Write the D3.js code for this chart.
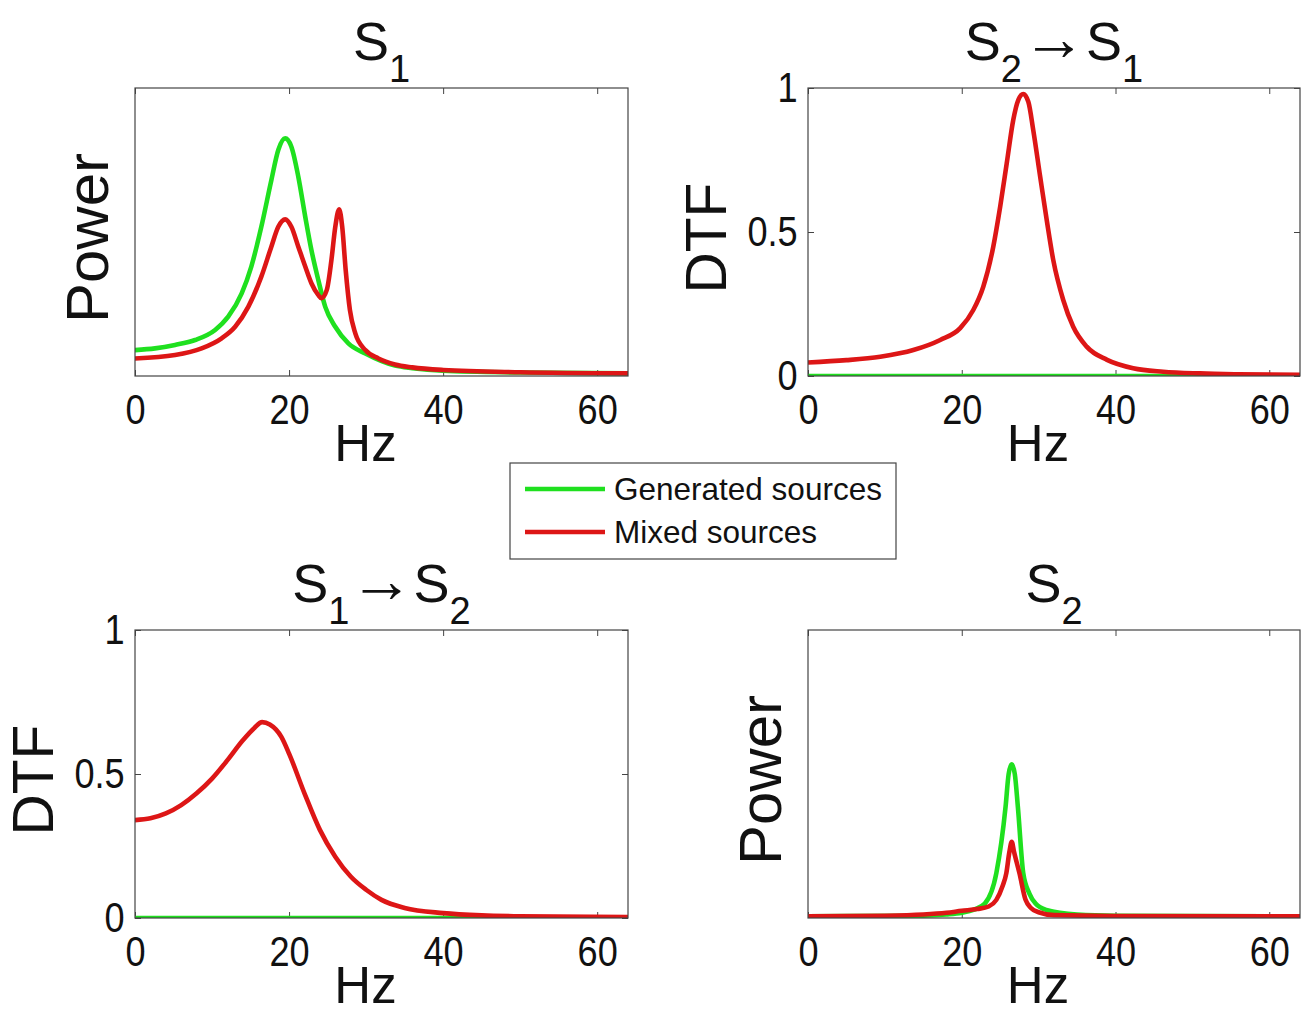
<!DOCTYPE html>
<meta charset="utf-8">
<title>Generated vs mixed sources</title>
<style>
  body { margin: 0; background: #fff; }
  text { font-family: "Liberation Sans", Arial, sans-serif; fill: #111; }
  .tick text { font-size: 42px; fill: #111; transform: scaleX(0.86); }
  .tick line { stroke: #444; }
  .box { fill: none; stroke: #444; stroke-width: 1.2px; }
  .curve { fill: none; stroke-width: 4.6px; stroke-linejoin: round; }
</style>
<body>
<script src="https://d3js.org/d3.v7.min.js"></script>
<script>

const width = 1307,
  height = 1011,
  xMax = 64,
  xTicks = [0, 20, 40, 60],
  dtfTicks = [0, 0.5, 1],
  green = "#1fe01f",
  red = "#dd1616";

const seriesNames = ["Generated sources", "Mixed sources"];

// S1 power (arbitrary units)
const s1GenHz  = [0, 2.6, 5.2, 7.8, 10.4, 12.1, 13.85, 15.1, 16.4, 17.7, 18.6, 19.5, 20.3, 21.2, 22.1, 22.9, 23.8, 24.7, 26, 27.7, 29.9, 33.75, 36, 40, 50, 64];
const s1GenVal = [0.09, 0.096, 0.108, 0.125, 0.16, 0.206, 0.287, 0.38, 0.518, 0.68, 0.785, 0.825, 0.796, 0.692, 0.553, 0.4375, 0.333, 0.24, 0.171, 0.113, 0.078, 0.036, 0.027, 0.018, 0.012, 0.009];
const s1MixHz  = [0, 5.2, 8.65, 11.25, 13, 14.7, 16.4, 17.7, 18.6, 19.5, 20.3, 21.2, 22.1, 22.9, 23.8, 24.2, 24.9, 25.5, 26, 26.5, 26.9, 27.35, 27.9, 28.6, 29.9, 31.6, 33.75, 36, 40, 50, 64];
const s1MixVal = [0.061, 0.073, 0.096, 0.131, 0.171, 0.24, 0.345, 0.449, 0.518, 0.544, 0.518, 0.449, 0.38, 0.322, 0.281, 0.27, 0.299, 0.403, 0.518, 0.579, 0.518, 0.368, 0.229, 0.148, 0.09, 0.061, 0.04, 0.03, 0.021, 0.013, 0.009];

// DTF S2 -> S1
const d21GenHz  = [0, 64];
const d21GenVal = [0, 0];
const d21MixHz  = [0, 5, 9.4, 13.7, 17.2, 19.8, 21.5, 22.8, 24.1, 25, 25.85, 26.7, 27.35, 28, 28.66, 29.3, 30.2, 31.05, 31.9, 33.2, 34.5, 36.25, 38.9, 42.3, 46.2, 51, 56, 64];
const d21MixVal = [0.047, 0.055, 0.067, 0.09, 0.125, 0.166, 0.229, 0.31, 0.449, 0.588, 0.738, 0.889, 0.958, 0.979, 0.952, 0.854, 0.692, 0.542, 0.403, 0.264, 0.171, 0.102, 0.056, 0.027, 0.015, 0.009, 0.006, 0.004];

// DTF S1 -> S2
const d12GenHz  = [0, 64];
const d12GenVal = [0, 0];
const d12MixHz  = [0, 2, 4, 6, 8, 10, 12, 14, 15.5, 16.5, 17.5, 19, 20, 22, 24, 26, 28, 30, 32, 35, 40, 45, 50, 64];
const d12MixVal = [0.34, 0.346, 0.363, 0.392, 0.433, 0.484, 0.548, 0.617, 0.66, 0.68, 0.672, 0.629, 0.571, 0.433, 0.306, 0.213, 0.144, 0.098, 0.063, 0.035, 0.017, 0.009, 0.006, 0.003];

// S2 power
const s2GenHz  = [0, 15, 18, 20, 21.6, 23, 24.5, 25.7, 26.1, 26.5, 26.9, 27.3, 28, 28.8, 29.6, 31, 35, 40, 64];
const s2GenVal = [0.006, 0.008, 0.012, 0.018, 0.029, 0.05, 0.156, 0.386, 0.5, 0.534, 0.5, 0.386, 0.156, 0.085, 0.05, 0.028, 0.012, 0.008, 0.006];
const s2MixHz  = [0, 10, 15, 18, 20, 22, 23.5, 24.5, 25.3, 25.8, 26.2, 26.5, 26.8, 27.5, 28.3, 29, 30, 32, 40, 64];
const s2MixVal = [0.006, 0.008, 0.012, 0.018, 0.025, 0.031, 0.04, 0.063, 0.11, 0.156, 0.23, 0.265, 0.23, 0.156, 0.063, 0.035, 0.02, 0.01, 0.007, 0.006];

const zip = (xs, ys) => xs.map((x, i) => [x, ys[i]]);

// panel layout, MATLAB-like 2x2 subplot
const panels = [
  { x0: 135, x1: 628, y0: 88,  y1: 376, title: [["S"], ["1", 1]], ylabel: "Power", dtf: false,
    gen: zip(s1GenHz, s1GenVal), mix: zip(s1MixHz, s1MixVal) },
  { x0: 808, x1: 1300, y0: 88, y1: 376, title: [["S"], ["2", 1], ["→", 0, 1], ["S"], ["1", 1]], ylabel: "DTF", dtf: true,
    gen: zip(d21GenHz, d21GenVal), mix: zip(d21MixHz, d21MixVal) },
  { x0: 135, x1: 628, y0: 630, y1: 918, title: [["S"], ["1", 1], ["→", 0, 1], ["S"], ["2", 1]], ylabel: "DTF", dtf: true,
    gen: zip(d12GenHz, d12GenVal), mix: zip(d12MixHz, d12MixVal) },
  { x0: 808, x1: 1300, y0: 630, y1: 918, title: [["S"], ["2", 1]], ylabel: "Power", dtf: false,
    gen: zip(s2GenHz, s2GenVal), mix: zip(s2MixHz, s2MixVal) }
];

const svg = d3.select("body").append("svg")
    .attr("width", width)
    .attr("height", height);

panels.forEach(p => {
  const x = d3.scaleLinear().domain([0, xMax]).range([p.x0, p.x1]);
  const y = d3.scaleLinear().domain([0, 1]).range([p.y1, p.y0]);
  const g = svg.append("g");

  // ticks (inward, mirrored top/right like matlab)
  g.append("g").attr("transform", `translate(0,${p.y1})`)
    .call(d3.axisBottom(x).tickValues(xTicks).tickSize(-6).tickPadding(18))
    .call(a => a.select(".domain").remove());
  g.append("g").attr("transform", `translate(0,${p.y0})`)
    .call(d3.axisTop(x).tickValues(xTicks).tickSize(-6).tickFormat(""))
    .call(a => a.select(".domain").remove());

  if (p.dtf) {
    g.append("g").attr("transform", `translate(${p.x0},0)`)
      .call(d3.axisLeft(y).tickValues(dtfTicks).tickSize(-6).tickPadding(12).tickFormat(d => d === 0.5 ? "0.5" : d3.format("d")(d)))
      .call(a => a.select(".domain").remove());
    g.append("g").attr("transform", `translate(${p.x1},0)`)
      .call(d3.axisRight(y).tickValues(dtfTicks).tickSize(-6).tickFormat(""))
      .call(a => a.select(".domain").remove());
  }
  g.selectAll(".tick text").attr("font-size", null).attr("font-family", null);

  const clipId = "clip" + p.x0 + "_" + p.y0;
  g.append("clipPath").attr("id", clipId)
    .append("rect").attr("x", p.x0).attr("y", p.y0 - 3).attr("width", p.x1 - p.x0).attr("height", p.y1 - p.y0 + 3);

  const line = d3.line().x(d => x(d[0])).y(d => y(d[1])).curve(d3.curveMonotoneX);
  g.append("path").attr("class", "curve").attr("clip-path", `url(#${clipId})`)
    .attr("stroke", green).attr("d", line(p.gen));
  g.append("path").attr("class", "curve").attr("clip-path", `url(#${clipId})`)
    .attr("stroke", red).attr("d", line(p.mix));

  g.append("rect").attr("class", "box")
    .attr("x", p.x0).attr("y", p.y0)
    .attr("width", p.x1 - p.x0).attr("height", p.y1 - p.y0);

  // title with subscripts
  const t = g.append("text")
    .attr("x", (p.x0 + p.x1) / 2)
    .attr("y", p.y0 - 28)
    .attr("text-anchor", "middle")
    .attr("font-size", 54);
  let down = false;
  p.title.forEach(([s, sub, arrow]) => {
    const ts = t.append("tspan").text(s);
    if (sub && !down) { ts.attr("dy", 22).attr("font-size", 38); down = true; }
    else if (sub) { ts.attr("font-size", 38); }
    else if (down) { ts.attr("dy", -22); down = false; }
    if (arrow) ts.attr("font-size", 64);
  });

  // axis labels
  g.append("text")
    .attr("x", (p.x0 + p.x1) / 2 - 16)
    .attr("y", p.y1 + 85)
    .attr("text-anchor", "middle")
    .attr("font-size", 51)
    .text("Hz");

  const lx = p.dtf ? p.x0 - 82 : p.x0 - 27;
  const ly = (p.y0 + p.y1) / 2 + 6;
  g.append("text")
    .attr("transform", `translate(${lx},${ly}) rotate(-90)`)
    .attr("text-anchor", "middle")
    .attr("font-size", p.dtf ? 57 : 60)
    .text(p.ylabel);
});

// legend
const legend = svg.append("g").attr("transform", "translate(510,463)");
legend.append("rect")
  .attr("width", 386).attr("height", 96)
  .attr("fill", "#fff").attr("stroke", "#444").attr("stroke-width", 1.2);

const rows = legend.selectAll("g.row")
  .data(seriesNames)
  .join("g")
    .attr("class", "row")
    .attr("transform", (d, i) => `translate(0,${26 + i * 43})`);

rows.append("line")
  .attr("x1", 15).attr("x2", 95)
  .attr("stroke", (d, i) => i === 0 ? green : red)
  .attr("stroke-width", 4.5);

rows.append("text")
  .attr("x", 104)
  .attr("y", 11)
  .attr("font-size", 31.5)
  .text(d => d);

</script>
